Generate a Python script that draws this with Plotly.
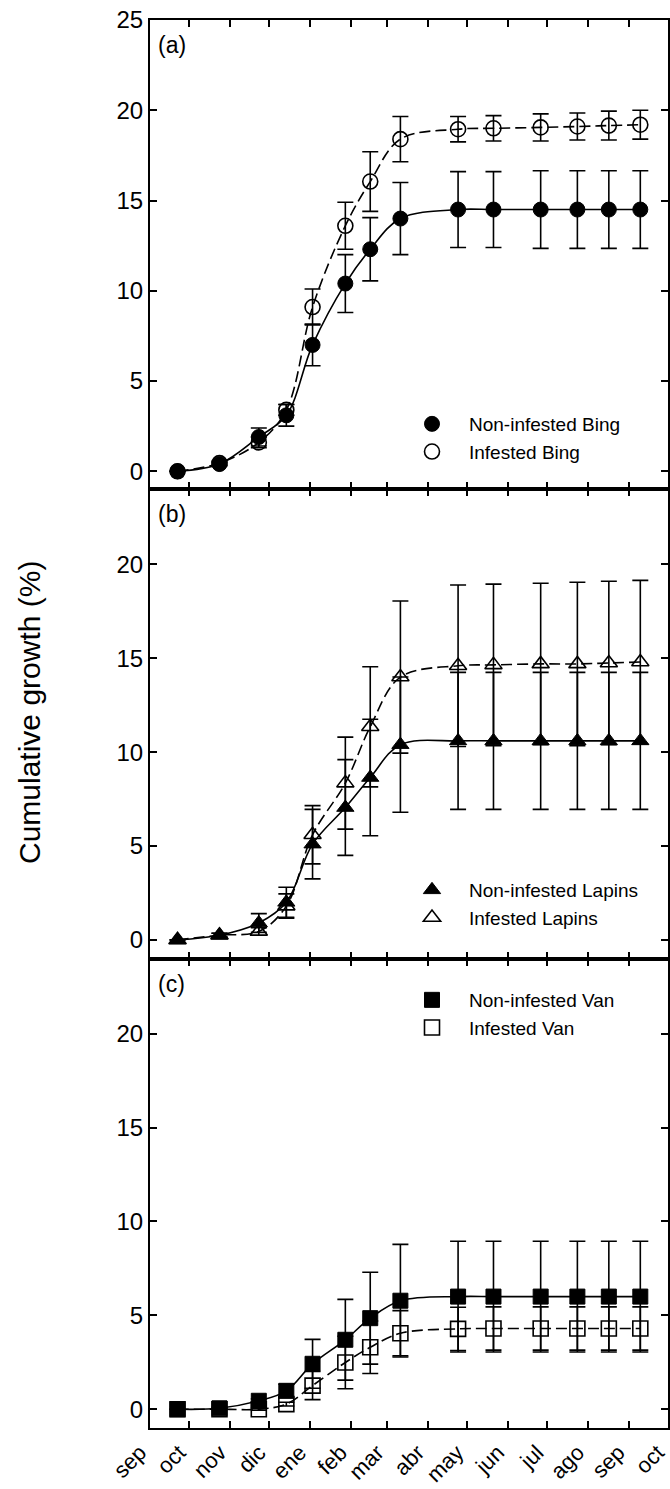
import plotly.graph_objects as go
from plotly.subplots import make_subplots

# ---------------- data ----------------
dates = ["2008-09-22", "2008-10-24", "2008-11-23", "2008-12-14", "2009-01-03",
         "2009-01-28", "2009-02-16", "2009-03-11", "2009-04-24", "2009-05-21",
         "2009-06-26", "2009-07-24", "2009-08-17", "2009-09-10"]

month_ticks = ["2008-09-01", "2008-10-01", "2008-11-01", "2008-12-01", "2009-01-01",
               "2009-02-01", "2009-03-01", "2009-04-01", "2009-05-01", "2009-06-01",
               "2009-07-01", "2009-08-01", "2009-09-01", "2009-10-01"]
month_labels = ["sep", "oct", "nov", "dic", "ene", "feb", "mar", "abr", "may",
                "jun", "jul", "ago", "sep", "oct"]

bing_non = [0.0, 0.4, 1.9, 3.1, 7.0, 10.4, 12.3, 14.0, 14.5, 14.5, 14.5, 14.5, 14.5, 14.5]
bing_non_err = [0.0, 0.1, 0.5, 0.6, 1.15, 1.6, 1.75, 2.0, 2.1, 2.1, 2.15, 2.15, 2.15, 2.15]
bing_inf = [0.0, 0.45, 1.6, 3.4, 9.1, 13.6, 16.05, 18.4, 18.95, 19.0, 19.05, 19.1, 19.15, 19.2]
bing_inf_err = [0.0, 0.1, 0.3, 0.3, 1.0, 1.3, 1.65, 1.25, 0.7, 0.7, 0.75, 0.75, 0.8, 0.8]

lapins_non = [0.0, 0.25, 0.9, 2.0, 5.1, 7.05, 8.65, 10.4, 10.6, 10.6, 10.6, 10.6, 10.6, 10.6]
lapins_non_err = [0.0, 0.1, 0.5, 0.8, 1.85, 2.55, 3.1, 3.6, 3.65, 3.65, 3.65, 3.65, 3.65, 3.65]
lapins_inf = [0.0, 0.25, 0.45, 1.8, 5.6, 8.35, 11.35, 14.0, 14.6, 14.65, 14.7, 14.7, 14.75, 14.8]
lapins_inf_err = [0.0, 0.1, 0.2, 0.65, 1.55, 2.45, 3.2, 4.05, 4.3, 4.3, 4.3, 4.35, 4.35, 4.35]

van_non = [0.0, 0.05, 0.45, 0.98, 2.42, 3.7, 4.85, 5.78, 6.0, 6.0, 6.0, 6.0, 6.0, 6.0]
van_non_err = [0.0, 0.05, 0.1, 0.35, 1.3, 2.15, 2.45, 3.0, 2.95, 2.95, 2.95, 2.95, 2.95, 2.95]
van_inf = [0.0, 0.0, 0.0, 0.27, 1.26, 2.49, 3.3, 4.05, 4.28, 4.3, 4.3, 4.3, 4.3, 4.3]
van_inf_err = [0.0, 0.0, 0.05, 0.1, 0.75, 1.4, 1.4, 1.2, 1.15, 1.15, 1.15, 1.15, 1.15, 1.15]

panels = [
    # (row, label, legend id, non name, inf name, symbol, non, non_err, inf, inf_err)
    (1, "(a)", "legend", "Non-infested Bing", "Infested Bing", "circle",
     bing_non, bing_non_err, bing_inf, bing_inf_err),
    (2, "(b)", "legend2", "Non-infested Lapins", "Infested Lapins", "triangle-up",
     lapins_non, lapins_non_err, lapins_inf, lapins_inf_err),
    (3, "(c)", "legend3", "Non-infested Van", "Infested Van", "square",
     van_non, van_non_err, van_inf, van_inf_err),
]

FONT = "Liberation Sans, Arial, Helvetica, sans-serif"
W, H = 670, 1489
ML, MR, MT, MB = 150, 2, 20, 61

fig = make_subplots(rows=3, cols=1, shared_xaxes=True, vertical_spacing=0)

for row, label, leg, n_non, n_inf, sym, y_non, e_non, y_inf, e_inf in panels:
    fig.add_trace(go.Scatter(x=dates, y=y_non, mode="lines", showlegend=False,
                             line=dict(color="black", width=1.6, shape="spline", smoothing=1.0),
                             hoverinfo="skip"), row=row, col=1)
    fig.add_trace(go.Scatter(x=dates, y=y_inf, mode="lines", showlegend=False,
                             line=dict(color="black", width=1.6, shape="spline", smoothing=1.0,
                                       dash="11px,5px"),
                             hoverinfo="skip"), row=row, col=1)
    msize = 15
    fig.add_trace(go.Scatter(x=dates, y=y_non, mode="markers", name=n_non, legend=leg,
                             marker=dict(symbol=sym, size=msize, color="black",
                                         line=dict(color="black", width=1)),
                             error_y=dict(type="data", array=e_non, visible=True,
                                          color="black", thickness=1.6, width=8)),
                  row=row, col=1)
    fig.add_trace(go.Scatter(x=dates, y=y_inf, mode="markers", name=n_inf, legend=leg,
                             marker=dict(symbol=sym + "-open", size=msize, color="black",
                                         line=dict(color="black", width=1.6)),
                             error_y=dict(type="data", array=e_inf, visible=True,
                                          color="black", thickness=1.6, width=8)),
                  row=row, col=1)

axis_common = dict(showline=True, linecolor="black", linewidth=2, mirror="allticks",
                   ticks="inside", ticklen=7, tickwidth=1.6, tickcolor="black",
                   showgrid=False, zeroline=False, automargin=False,
                   tickfont=dict(family=FONT, size=24, color="black"))

for r in (1, 2, 3):
    fig.update_xaxes(type="date", range=["2008-09-01", "2009-10-01 03:00"],
                     tickvals=month_ticks, ticktext=month_labels,
                     showticklabels=(r == 3), tickangle=-45, row=r, col=1,
                     **axis_common)
fig.update_xaxes(tickfont=dict(family=FONT, size=22, color="black"),
                 ticklabeloverflow="allow", ticklabelshift=-10, ticklabelstandoff=1,
                 row=3, col=1)

fig.update_yaxes(range=[-1, 25], tick0=0, dtick=5, row=1, col=1, **axis_common)
fig.update_yaxes(range=[-1, 24], tick0=0, dtick=5, row=2, col=1, **axis_common)
fig.update_yaxes(range=[-1, 24], tick0=0, dtick=5, row=3, col=1, **axis_common)

plot_h = H - MT - MB
plot_w = W - ML - MR


def py(pix):
    return 1 - (pix - MT) / plot_h


def px(pix):
    return (pix - ML) / plot_w


leg_font = dict(family=FONT, size=19, color="black")
leg_common = dict(xanchor="left", yanchor="top", font=leg_font, bgcolor="rgba(0,0,0,0)",
                  borderwidth=0, itemwidth=64, tracegroupgap=0)

fig.update_layout(
    width=W, height=H,
    margin=dict(l=ML, r=MR, t=MT, b=MB, autoexpand=False),
    paper_bgcolor="white", plot_bgcolor="white",
    font=dict(family=FONT, color="black"),
    legend=dict(x=px(395), y=py(405), **leg_common),
    legend2=dict(x=px(395), y=py(871), **leg_common),
    legend3=dict(x=px(395), y=py(981), **leg_common),
)

# panel letters
panel_h = plot_h / 3
for row, label, *_ in panels:
    yref = "y domain" if row == 1 else f"y{row} domain"
    xref = "x domain" if row == 1 else f"x{row} domain"
    fig.add_annotation(text=label, xref=xref, yref=yref, x=0.012, y=1 - 25 / panel_h,
                       xanchor="left", yanchor="middle", showarrow=False,
                       font=dict(family=FONT, size=23, color="black"))

# y axis title
fig.add_annotation(text="Cumulative growth (%)", xref="paper", yref="paper",
                   x=px(29), y=py(713), textangle=-90, showarrow=False,
                   xanchor="center", yanchor="middle",
                   font=dict(family=FONT, size=30, color="black"))

fig.write_html("out.html")
